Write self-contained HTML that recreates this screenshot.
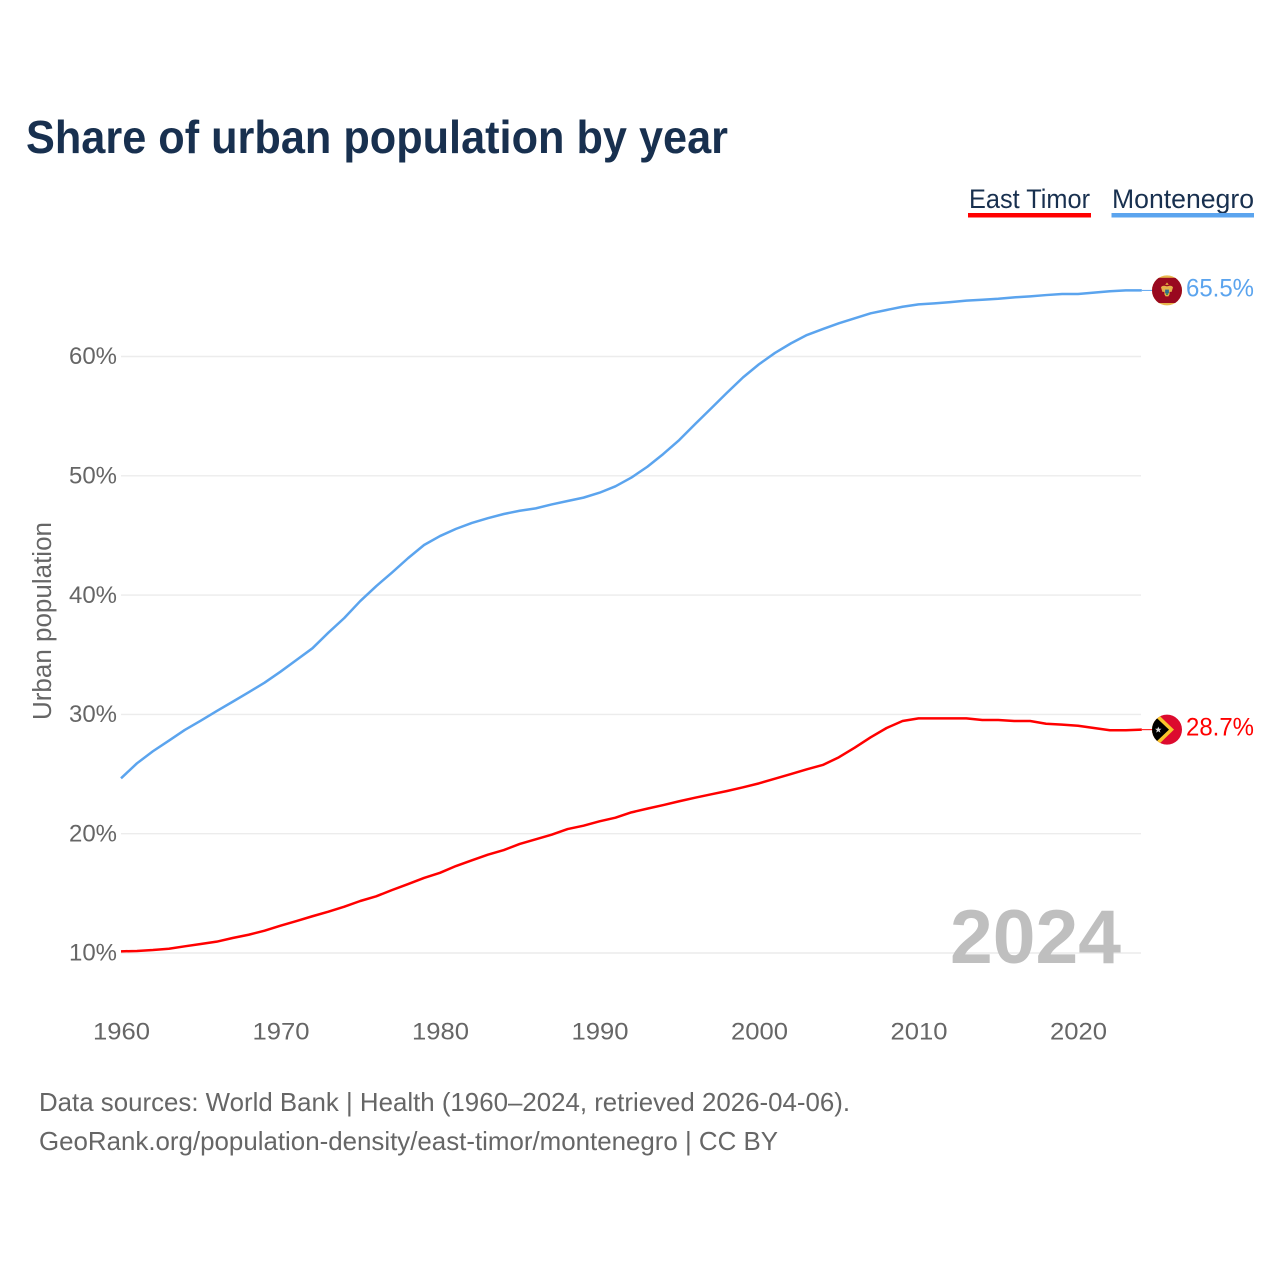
<!DOCTYPE html>
<html lang="en">
<head>
<meta charset="utf-8">
<title>Share of urban population by year</title>
<style>
html,body{margin:0;padding:0;background:#fff;width:1280px;height:1280px;overflow:hidden}
svg{display:block;font-family:"Liberation Sans",sans-serif}
</style>
</head>
<body>
<svg id="chart" xmlns="http://www.w3.org/2000/svg" width="1280" height="1280" viewBox="0 0 1280 1280">
  <defs>
    <clipPath id="flag-clip"><circle cx="0" cy="0" r="15"/></clipPath>
  </defs>
  <rect x="0" y="0" width="1280" height="1280" fill="#fff"/>
  <text x="26" y="153" font-size="46" font-weight="700" fill="#18304f" textLength="702" lengthAdjust="spacingAndGlyphs">Share of urban population by year</text>

  <g>
    <text x="969" y="208" font-size="27" fill="#18304f" textLength="121" lengthAdjust="spacingAndGlyphs">East Timor</text>
    <rect x="968" y="213" width="123" height="4.5" fill="#ff0000"/>
  </g>
  <g>
    <text x="1112" y="208" font-size="27" fill="#18304f" textLength="142" lengthAdjust="spacingAndGlyphs">Montenegro</text>
    <rect x="1111.5" y="213" width="142.5" height="4.5" fill="#5ba4ee"/>
  </g>

  <g id="grid"></g>
  <g id="y-ticks"></g>
  <g id="x-ticks"></g>
  <text transform="translate(51,720) rotate(-90)" font-size="25.5" fill="#666" textLength="198" lengthAdjust="spacingAndGlyphs">Urban population</text>

  <text x="950" y="963" font-size="76" font-weight="700" fill="#bfbfbf" textLength="171" lengthAdjust="spacingAndGlyphs">2024</text>

  <g id="series"></g>

  <g id="flag-montenegro">
    <g clip-path="url(#flag-clip)">
      <rect x="-16" y="-16" width="32" height="32" fill="#e8b84e"/>
      <rect x="-16" y="-12.6" width="32" height="25.2" fill="#99091f"/>
      <path d="M-1.8 -5.5 L0 -8 L1.8 -5.5 Z" fill="#e2a93f"/>
      <path d="M-6 -3 C-5 -5.2 -2.5 -5 0 -4 C2.5 -5 5 -5.2 6 -3 L4.6 1.5 L2.6 1.5 L2.6 4 L1.4 6 L-1.4 6 L-2.6 4 L-2.6 1.5 L-4.6 1.5 Z" fill="#e4b04a"/>
      <rect x="-1.9" y="-0.8" width="3.8" height="3.8" fill="#2f6f8f"/>
      <rect x="-1" y="3" width="2" height="1.6" fill="#3f8f4f"/>
    </g>
  </g>
  <g id="flag-east-timor">
    <g clip-path="url(#flag-clip)">
      <rect x="-16" y="-16" width="32" height="32" fill="#dc0a2e"/>
      <path d="M-20 -26 L7 0 L-20 26 Z" fill="#f7c52c"/>
      <path d="M-18 -19 L2 0 L-18 19 Z" fill="#000"/>
      <path d="M-8.7 -3 L-7.8 -0.9 L-5.5 -0.9 L-7.3 0.6 L-6.6 2.9 L-8.7 1.6 L-10.8 2.9 L-10.1 0.6 L-11.9 -0.9 L-9.6 -0.9 Z" fill="#dcdcdc"/>
    </g>
  </g>

  <text x="39" y="1111" font-size="26" fill="#666" textLength="811" lengthAdjust="spacingAndGlyphs">Data sources: World Bank | Health (1960–2024, retrieved 2026-04-06).</text>
  <text x="39" y="1150" font-size="26" fill="#666" textLength="739" lengthAdjust="spacingAndGlyphs">GeoRank.org/population-density/east-timor/montenegro | CC BY</text>
</svg>
<script>
const years = [1960,1961,1962,1963,1964,1965,1966,1967,1968,1969,1970,1971,1972,1973,1974,1975,1976,1977,1978,1979,1980,1981,1982,1983,1984,1985,1986,1987,1988,1989,1990,1991,1992,1993,1994,1995,1996,1997,1998,1999,2000,2001,2002,2003,2004,2005,2006,2007,2008,2009,2010,2011,2012,2013,2014,2015,2016,2017,2018,2019,2020,2021,2022,2023,2024];
const eastTimor = [10.14,10.17,10.25,10.36,10.56,10.75,10.95,11.26,11.53,11.87,12.29,12.68,13.08,13.46,13.88,14.36,14.75,15.28,15.78,16.29,16.72,17.29,17.77,18.24,18.63,19.14,19.53,19.92,20.39,20.67,21.04,21.34,21.79,22.1,22.4,22.72,23.02,23.3,23.58,23.89,24.22,24.61,25.0,25.4,25.76,26.4,27.21,28.08,28.86,29.45,29.67,29.67,29.67,29.67,29.53,29.53,29.45,29.45,29.22,29.14,29.05,28.86,28.67,28.67,28.72];
const montenegro = [24.64,25.9,26.91,27.8,28.7,29.47,30.28,31.06,31.85,32.66,33.58,34.56,35.54,36.85,38.08,39.5,40.75,41.9,43.1,44.2,44.95,45.55,46.05,46.45,46.8,47.07,47.27,47.6,47.89,48.17,48.58,49.12,49.85,50.76,51.83,53.0,54.34,55.65,56.97,58.25,59.35,60.3,61.1,61.8,62.3,62.78,63.2,63.62,63.9,64.17,64.37,64.45,64.56,64.68,64.76,64.84,64.96,65.04,65.15,65.24,65.24,65.35,65.47,65.54,65.54];
const yTicks = [10,20,30,40,50,60];
const yTickLabels = ['10%','20%','30%','40%','50%','60%'];
const xTicks = [1960,1970,1980,1990,2000,2010,2020];
const xTickLabels = ['1960','1970','1980','1990','2000','2010','2020'];

const NS = 'http://www.w3.org/2000/svg';
const xScale = function (year) { return 121 + (year - 1960) * 15.95; };
const yScale = function (value) { return 953 - (value - 10) * 11.93; };

function make(tag, parent, props) {
  const el = document.createElementNS(NS, tag);
  Object.keys(props).forEach(function (k) { el.setAttribute(k, props[k]); });
  parent.appendChild(el);
  return el;
}

const gridGroup = document.getElementById('grid');
const yTickGroup = document.getElementById('y-ticks');
yTicks.forEach(function (tick, i) {
  const line = make('line', gridGroup, {x1: 121, x2: 1141, y1: yScale(tick), y2: yScale(tick), stroke: '#ececec', 'stroke-width': 1.4});
  
  
  const label = make('text', yTickGroup, {x: 69, y: yScale(tick) + 7.7, 'font-size': 24.5, fill: '#666', textLength: 48, lengthAdjust: 'spacingAndGlyphs'});
  label.textContent = yTickLabels[i];
  
  
});

const xTickGroup = document.getElementById('x-ticks');
xTicks.forEach(function (tick, i) {
  const label = make('text', xTickGroup, {x: xScale(tick) - 28, y: 1039.3, 'font-size': 24.5, fill: '#666', textLength: 57, lengthAdjust: 'spacingAndGlyphs'});
  label.textContent = xTickLabels[i];
  
  
});

function linePath(values) {
  return values.map(function (v, i) {
    return (i ? 'L' : 'M') + xScale(years[i]).toFixed(2) + ' ' + yScale(v).toFixed(2);
  }).join(' ');
}

const seriesGroup = document.getElementById('series');

const eastTimorLine = make('path', seriesGroup, {d: linePath(eastTimor), fill: 'none', stroke: '#ff0000', 'stroke-width': 2.5, 'stroke-linejoin': 'round'});



const montenegroLine = make('path', seriesGroup, {d: linePath(montenegro), fill: 'none', stroke: '#5ba4ee', 'stroke-width': 2.5, 'stroke-linejoin': 'round'});



const lastX = xScale(years[years.length - 1]);
const eastTimorEndY = yScale(eastTimor[eastTimor.length - 1]);
const montenegroEndY = yScale(montenegro[montenegro.length - 1]);

const eastTimorConnector = make('line', seriesGroup, {x1: lastX, x2: 1153, y1: eastTimorEndY, y2: eastTimorEndY, stroke: '#ff0000', 'stroke-width': 1});



const montenegroConnector = make('line', seriesGroup, {x1: lastX, x2: 1153, y1: montenegroEndY, y2: montenegroEndY, stroke: '#5ba4ee', 'stroke-width': 1});



document.getElementById('flag-east-timor').setAttribute('transform', 'translate(1167,' + eastTimorEndY + ')');
document.getElementById('flag-montenegro').setAttribute('transform', 'translate(1167,' + montenegroEndY + ')');

const eastTimorValue = make('text', seriesGroup, {x: 1186, y: eastTimorEndY + 6, 'font-size': 25, fill: '#ff0000', textLength: 68, lengthAdjust: 'spacingAndGlyphs'});
eastTimorValue.textContent = eastTimor[eastTimor.length - 1].toFixed(1) + '%';



const montenegroValue = make('text', seriesGroup, {x: 1186, y: montenegroEndY + 6, 'font-size': 25, fill: '#5ba4ee', textLength: 68, lengthAdjust: 'spacingAndGlyphs'});
montenegroValue.textContent = montenegro[montenegro.length - 1].toFixed(1) + '%';


</script>
</body>
</html>
